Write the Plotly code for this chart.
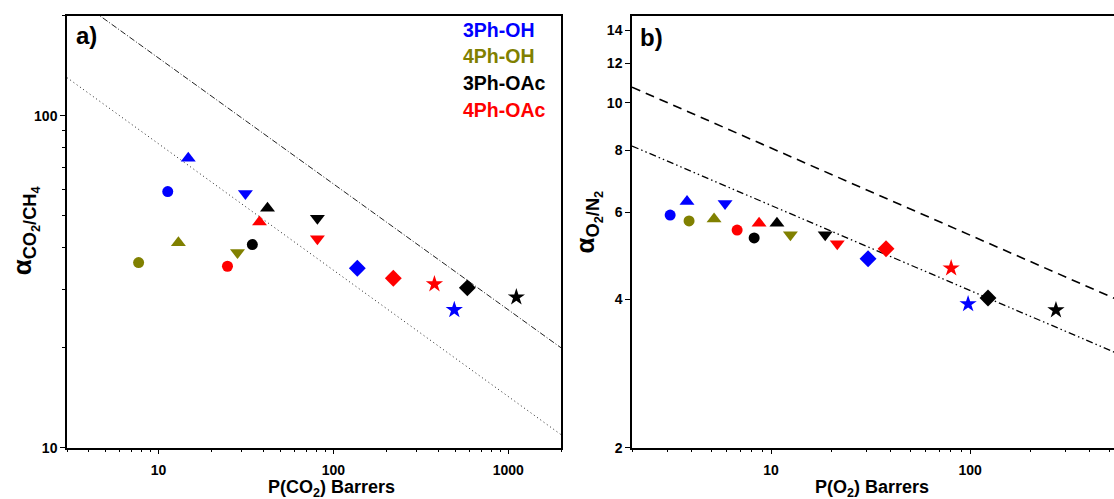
import math
import plotly.graph_objects as go

# ---- data -------------------------------------------------------------
series_names = ["3Ph-OH", "4Ph-OH", "3Ph-OAc", "4Ph-OAc"]
series_colors = ["#0000ff", "#808000", "#000000", "#ff0000"]

# CO2 permeability (Barrers) and CO2/CH4 selectivity
co2_perm_3ph_oh = [11.3, 14.8, 31.4, 137, 491]
co2_sel_3ph_oh = [59.1, 74.5, 58.3, 34.7, 26.0]
co2_perm_4ph_oh = [7.7, 13.0, 28.3]
co2_sel_4ph_oh = [36.1, 41.4, 38.7]
co2_perm_3ph_oac = [34.4, 42.0, 81.0, 583, 1111]
co2_sel_3ph_oac = [40.9, 52.6, 49.1, 30.3, 28.4]
co2_perm_4ph_oac = [24.8, 37.8, 81.0, 220, 378]
co2_sel_4ph_oac = [35.2, 47.8, 42.6, 32.4, 31.1]

# O2 permeability (Barrers) and O2/N2 selectivity
o2_perm_3ph_oh = [3.11, 3.78, 5.87, 30.7, 97.7]
o2_sel_3ph_oh = [5.92, 6.31, 6.25, 4.83, 3.91]
o2_perm_4ph_oh = [3.87, 5.17, 12.5]
o2_sel_4ph_oh = [5.76, 5.81, 5.40]
o2_perm_3ph_oac = [8.22, 10.7, 18.7, 123, 270]
o2_sel_3ph_oac = [5.32, 5.70, 5.40, 4.02, 3.80]
o2_perm_4ph_oac = [6.75, 8.7, 21.5, 37.8, 80.3]
o2_sel_4ph_oac = [5.52, 5.70, 5.18, 5.06, 4.62]

# Upper-bound lines (end points)
co2_ub2008_p = [3, 2000]
co2_ub2008_a = [235.6, 20.0]
co2_ub1991_p = [3, 2000]
co2_ub1991_a = [130.2, 10.95]
o2_ub2008_p = [2, 1000]
o2_ub2008_a = [10.75, 3.59]
o2_ub1991_p = [2, 1000]
o2_ub1991_a = [8.17, 2.80]

# axis ticks
co2_xticks = [10, 100, 1000]
co2_yticks = [10, 100]
o2_xticks = [10, 100]
o2_yticks = [2, 4, 6, 8, 10, 12, 14]

symbols = ["circle", "triangle-up", "triangle-down", "diamond", "star"]
sizes = [11, 13, 13, 13, 13]

W, H = 1114, 499

fig = go.Figure()

co2_sets = [(co2_perm_3ph_oh, co2_sel_3ph_oh), (co2_perm_4ph_oh, co2_sel_4ph_oh),
            (co2_perm_3ph_oac, co2_sel_3ph_oac), (co2_perm_4ph_oac, co2_sel_4ph_oac)]
o2_sets = [(o2_perm_3ph_oh, o2_sel_3ph_oh), (o2_perm_4ph_oh, o2_sel_4ph_oh),
           (o2_perm_3ph_oac, o2_sel_3ph_oac), (o2_perm_4ph_oac, o2_sel_4ph_oac)]

# bound lines
fig.add_trace(go.Scatter(x=co2_ub2008_p, y=co2_ub2008_a, mode="lines",
                         line=dict(color="#222", width=1, dash="6px,2px,1px,2px"),
                         xaxis="x", yaxis="y", showlegend=False))
fig.add_trace(go.Scatter(x=co2_ub1991_p, y=co2_ub1991_a, mode="lines",
                         line=dict(color="#222", width=1, dash="1px,3px"),
                         xaxis="x", yaxis="y", showlegend=False))
fig.add_trace(go.Scatter(x=o2_ub2008_p, y=o2_ub2008_a, mode="lines",
                         line=dict(color="#000", width=1.6, dash="9px,6px"),
                         xaxis="x2", yaxis="y2", showlegend=False))
fig.add_trace(go.Scatter(x=o2_ub1991_p, y=o2_ub1991_a, mode="lines",
                         line=dict(color="#000", width=1.3, dash="7px,3px,1.5px,3px,1.5px,3px"),
                         xaxis="x2", yaxis="y2", showlegend=False))

for (px, py), color, name in zip(co2_sets, series_colors, series_names):
    n = len(px)
    fig.add_trace(go.Scatter(x=px, y=py, mode="markers", name=name,
                             marker=dict(symbol=symbols[:n], size=sizes[:n], color=color,
                                         opacity=1, line=dict(width=0)),
                             xaxis="x", yaxis="y", showlegend=False))
for (px, py), color, name in zip(o2_sets, series_colors, series_names):
    n = len(px)
    fig.add_trace(go.Scatter(x=px, y=py, mode="markers", name=name,
                             marker=dict(symbol=symbols[:n], size=sizes[:n], color=color,
                                         opacity=1, line=dict(width=0)),
                             xaxis="x2", yaxis="y2", showlegend=False))


def minor_vals(lo, hi):
    vals = []
    d = 10 ** math.floor(math.log10(lo))
    while d <= hi:
        for m in range(2, 10):
            v = m * d
            if lo <= v <= hi:
                vals.append(v)
        d *= 10
    return vals


tickfont = dict(family="Liberation Sans, Arial, sans-serif", size=14, color="black", weight="bold")
common = dict(type="log", showline=True, linecolor="black", linewidth=1.5, ticks="outside",
              ticklen=5, tickwidth=1.3, tickcolor="black", showgrid=False, zeroline=False,
              tickfont=tickfont, tickmode="array")

y_dom = [(H - 455) / H, (H - 16) / H]

fig.update_layout(
    width=W, height=H,
    margin=dict(l=0, r=0, t=0, b=0),
    paper_bgcolor="white", plot_bgcolor="white",
    xaxis=dict(**common, domain=[67 / W, 561 / W], range=[math.log10(3), math.log10(2000)],
               tickvals=co2_xticks, ticktext=[str(v) for v in co2_xticks], mirror=True,
               ticklabelstandoff=4,
               minor=dict(tickvals=minor_vals(3, 2000), ticks="outside", ticklen=3,
                          tickwidth=1, tickcolor="black"),
               anchor="y"),
    yaxis=dict(**common, domain=y_dom, range=[1, math.log10(200)],
               tickvals=co2_yticks, ticktext=[str(v) for v in co2_yticks], mirror=True,
               minor=dict(tickvals=minor_vals(10, 200), ticks="outside", ticklen=3,
                          tickwidth=1, tickcolor="black"),
               anchor="x"),
    xaxis2=dict(**common, domain=[632 / W, 1.0], range=[math.log10(2), 2.723],
                tickvals=o2_xticks, ticktext=[str(v) for v in o2_xticks], mirror=True,
                ticklabelstandoff=4,
                minor=dict(tickvals=minor_vals(2, 600), ticks="outside", ticklen=3,
                           tickwidth=1, tickcolor="black"),
                anchor="y2"),
    yaxis2=dict(**common, domain=y_dom, range=[math.log10(2), math.log10(15)],
                tickvals=o2_yticks, ticktext=[str(v) for v in o2_yticks], mirror=False,
                anchor="x2"),
)

bold = "Liberation Sans, Arial, sans-serif"
ann = []


def text(x, y, s, size, color="black", angle=0, xanchor="center", pad=1):
    ann.append(dict(x=x / W, y=1 - y / H, xref="paper", yref="paper", text=s,
                    showarrow=False, xanchor=xanchor, yanchor="middle", textangle=angle,
                    borderpad=pad,
                    font=dict(family=bold, size=size, color=color, weight="bold")))


text(86, 36, "a)", 24)
text(651, 38, "b)", 24)
for i, (name, color) in enumerate(zip(series_names, series_colors)):
    text(461, 30 + i * 27.3, name, 19.5, color=color, xanchor="left")

text(331, 496, "P(CO<sub>2</sub>) Barrers", 18, pad=0)
text(872, 496, "P(O<sub>2</sub>) Barrers", 18, pad=0)
text(25, 234, "α<sub>CO<sub>2</sub>/CH<sub>4</sub></sub>", 26, angle=-90)
text(588, 226, "α<sub>O<sub>2</sub>/N<sub>2</sub></sub>", 26, angle=-90)

fig.update_layout(annotations=ann)
fig.write_html("out.html")
